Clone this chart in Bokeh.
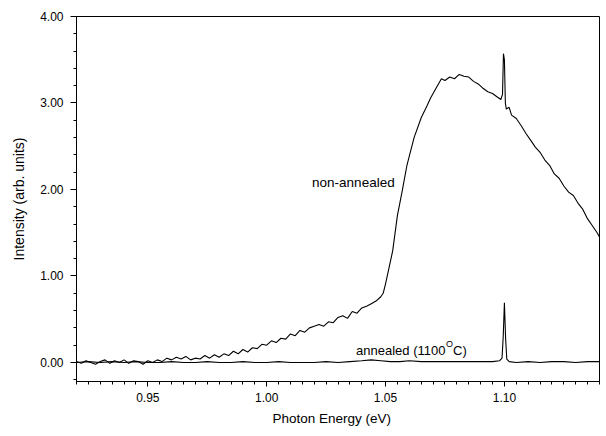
import numpy as np
from bokeh.plotting import figure
from bokeh.models import Range1d, FixedTicker, NumeralTickFormatter, Label, Title
from bokeh.embed import file_html
from bokeh.resources import INLINE

# ---- data ----
# non-annealed spectrum (photon energy in eV, intensity in arb. units)
x_nonannealed = [
    0.920, 0.922, 0.924, 0.926, 0.928, 0.930, 0.932, 0.934, 0.936, 0.938,
    0.940, 0.942, 0.944, 0.946, 0.948, 0.950, 0.952, 0.954, 0.956, 0.958,
    0.960, 0.962, 0.964, 0.966, 0.968, 0.970, 0.972, 0.974, 0.976, 0.978,
    0.980, 0.982, 0.984, 0.986, 0.988, 0.990, 0.992, 0.994, 0.996, 0.998,
    1.000, 1.002, 1.004, 1.006, 1.008, 1.010, 1.012, 1.014, 1.016, 1.018,
    1.020, 1.022, 1.024, 1.026, 1.028, 1.030, 1.032, 1.034, 1.036, 1.038,
    1.040, 1.042, 1.044, 1.046, 1.048, 1.049, 1.050, 1.0515, 1.053, 1.055,
    1.057, 1.059, 1.062, 1.065, 1.0675, 1.069, 1.071, 1.0735, 1.075, 1.077,
    1.079, 1.081, 1.083, 1.085, 1.087, 1.089, 1.091, 1.093, 1.095, 1.097,
    1.0985, 1.0992, 1.0996, 1.1000, 1.1004, 1.1008, 1.102, 1.103, 1.105, 1.107,
    1.109, 1.111, 1.113, 1.115, 1.117, 1.119, 1.121, 1.123, 1.125, 1.127,
    1.129, 1.131, 1.133, 1.135, 1.137, 1.139, 1.140,
]
y_nonannealed = [
    0.01, -0.01, 0.02, 0.00, -0.02, 0.01, 0.03, -0.01, 0.02, 0.00,
    0.03, -0.01, 0.02, 0.01, -0.02, 0.02, 0.00, 0.03, 0.01, 0.05,
    0.03, 0.06, 0.04, 0.07, 0.03, 0.05, 0.04, 0.08, 0.05, 0.09,
    0.06, 0.10, 0.08, 0.13, 0.10, 0.15, 0.12, 0.17, 0.16, 0.21,
    0.20, 0.25, 0.23, 0.28, 0.27, 0.33, 0.31, 0.37, 0.35, 0.40,
    0.42, 0.44, 0.42, 0.47, 0.46, 0.52, 0.54, 0.51, 0.59, 0.57,
    0.63, 0.65, 0.68, 0.71, 0.76, 0.80, 0.91, 1.10, 1.29, 1.70,
    1.98, 2.28, 2.60, 2.83, 2.97, 3.06, 3.16, 3.28, 3.26, 3.30,
    3.28, 3.33, 3.31, 3.30, 3.25, 3.22, 3.17, 3.13, 3.11, 3.07,
    3.04, 3.10, 3.57, 3.50, 3.00, 2.93, 2.95, 2.86, 2.82, 2.74,
    2.65, 2.57, 2.49, 2.43, 2.34, 2.28, 2.18, 2.13, 2.04, 1.97,
    1.93, 1.84, 1.77, 1.66, 1.58, 1.50, 1.45,
]

# annealed (1100 C) spectrum
x_annealed = [
    0.920, 0.925, 0.930, 0.935, 0.940, 0.945, 0.950, 0.955, 0.960, 0.965,
    0.970, 0.975, 0.980, 0.985, 0.990, 0.995, 1.000, 1.005, 1.010, 1.015,
    1.020, 1.025, 1.030, 1.035, 1.040, 1.044, 1.048, 1.052, 1.056, 1.060,
    1.065, 1.070, 1.075, 1.080, 1.085, 1.090, 1.095, 1.098, 1.099, 1.0995,
    1.1000, 1.1005, 1.1010, 1.102, 1.105, 1.110, 1.115, 1.120, 1.125, 1.130,
    1.135, 1.140,
]
y_annealed = [
    0.00, 0.01, 0.00, 0.01, 0.00, 0.01, 0.00, 0.00, 0.01, 0.00,
    0.00, 0.01, 0.00, 0.00, 0.01, 0.00, 0.00, 0.01, 0.00, 0.00,
    0.00, 0.01, 0.00, 0.01, 0.02, 0.03, 0.02, 0.01, 0.01, 0.02,
    0.01, 0.01, 0.01, 0.01, 0.01, 0.01, 0.01, 0.02, 0.05, 0.30,
    0.69, 0.28, 0.04, 0.01, 0.00, 0.01, 0.00, 0.01, 0.01, 0.00,
    0.01, 0.01,
]

x_major_ticks = [0.95, 1.00, 1.05, 1.10]
y_major_ticks = [0.0, 1.0, 2.0, 3.0, 4.0]

FONT = "Liberation Sans"

p = figure(width=600, height=434, output_backend="svg", toolbar_location=None,
           x_range=Range1d(0.92, 1.14), y_range=Range1d(-0.22, 4.0),
           min_border_left=76, min_border_right=1, min_border_top=16,
           min_border_bottom=53)
p.background_fill_color = "white"
p.border_fill_color = "white"
p.grid.visible = False
p.outline_line_color = "black"
p.outline_line_width = 1
p.outline_line_alpha = 1.0

p.line(x_nonannealed, y_nonannealed, line_color="black", line_width=1.1)
p.line(x_annealed, y_annealed, line_color="black", line_width=1.1)

# axes
p.xaxis.ticker = FixedTicker(ticks=x_major_ticks,
                             minor_ticks=list(np.round(np.arange(0.92, 1.1401, 0.005), 4)))
p.yaxis.ticker = FixedTicker(ticks=y_major_ticks,
                             minor_ticks=list(np.round(np.arange(-0.2, 4.001, 0.2), 2)))
for ax in (p.xaxis, p.yaxis):
    ax.formatter = NumeralTickFormatter(format="0.00")
    ax.axis_line_color = "black"
    ax.major_tick_line_color = "black"
    ax.minor_tick_line_color = "black"
    ax.major_tick_in = 0
    ax.minor_tick_in = 0
    ax.minor_tick_out = 3
    ax.major_label_text_font = FONT
    ax.major_label_text_font_size = "12px"
    ax.major_label_text_color = "black"
    ax.axis_label_text_font = FONT
    ax.axis_label_text_font_style = "normal"
    ax.axis_label_text_color = "black"

p.yaxis.major_tick_out = 6
p.yaxis.major_label_standoff = 7
p.yaxis.axis_label = "Intensity (arb. units)"
p.yaxis.axis_label_text_font_size = "14px"
p.yaxis.axis_label_standoff = 10

p.xaxis.major_tick_out = 5
p.xaxis.major_label_standoff = 6

# x-axis title (sits left of centre in the original)
p.add_layout(Title(text="Photon Energy (eV)", align="left", offset=196,
                   text_font=FONT, text_font_size="13.5px", text_font_style="normal",
                   text_color="black", standoff=9), "below")

# curve annotations
p.add_layout(Label(x=1.0191, y=2.083, text="non-annealed", text_align="left",
                   text_baseline="middle", text_font=FONT, text_font_size="13.5px",
                   text_color="black"))
p.add_layout(Label(x=1.0376, y=0.14, text="annealed (1100", text_align="left",
                   text_baseline="alphabetic", text_font=FONT, text_font_size="13px",
                   text_color="black"))
p.add_layout(Label(x=1.0376, y=0.14, x_offset=90, y_offset=6, text="O",
                   text_align="left", text_baseline="alphabetic", text_font=FONT,
                   text_font_size="9px", text_color="black"))
p.add_layout(Label(x=1.0376, y=0.14, x_offset=97, text="C)", text_align="left",
                   text_baseline="alphabetic", text_font=FONT, text_font_size="13px",
                   text_color="black"))

open("out.html", "w").write(file_html(p, INLINE))
